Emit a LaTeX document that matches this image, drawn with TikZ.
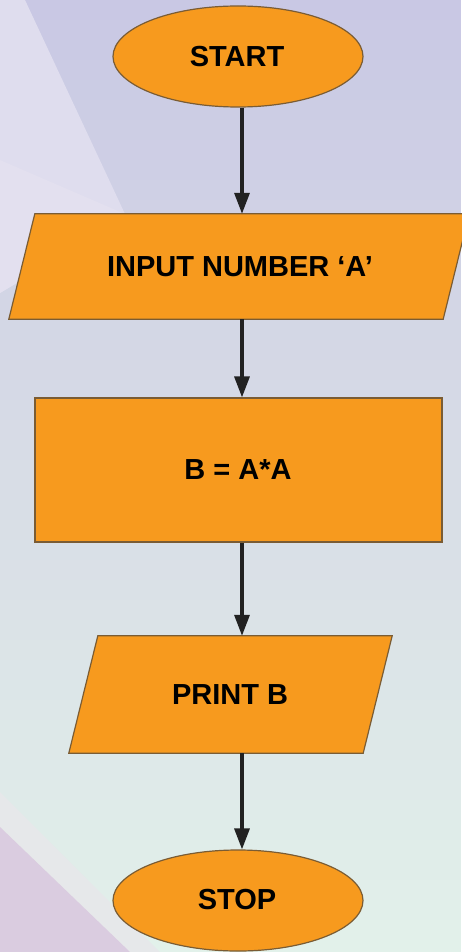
\documentclass[tikz,border=0pt]{standalone}
\usepackage{fontspec}
\setmainfont{Liberation Sans}
\usetikzlibrary{shapes.geometric,arrows.meta}
\definecolor{bgtop}{HTML}{C9C8E4}
\definecolor{bgmid}{HTML}{D8DDE6}
\definecolor{bgbot}{HTML}{E2F1EA}
\definecolor{wedge}{HTML}{DFDDEE}
\definecolor{wedgeb}{HTML}{E3E0EF}
\definecolor{purp}{HTML}{DACCE0}
\definecolor{stripe}{HTML}{E6E8EA}
\definecolor{boxfill}{HTML}{F79A1E}
\definecolor{boxline}{HTML}{7A5C34}
\definecolor{arrowc}{HTML}{222222}
\pgfdeclarelayer{bg}
\pgfdeclarelayer{shapes}
\pgfsetlayers{bg,shapes,main}
\begin{document}
\begin{tikzpicture}[x=1pt,y=-1pt,
  lbl/.style={font=\fontsize{29}{32}\selectfont\bfseries, text=black, inner sep=0pt},
  term/.style={ellipse, draw=boxline, fill=boxfill, line width=1.2pt, minimum width=250, minimum height=101, inner sep=0pt},
  procbox/.style={rectangle, draw=boxline, fill=boxfill, line width=1.2pt, minimum width=407, minimum height=144, inner sep=0pt},
  iobox/.style={rectangle, minimum height=#1, inner sep=0pt},
  ioshape/.style={draw=boxline, fill=boxfill, line width=1.2pt, line join=miter},
  flow/.style={draw=arrowc, line width=3.3pt, -{Triangle[length=21pt,width=15pt]}, shorten >=0pt}
]
\useasboundingbox (0,0) rectangle (461,952);
\begin{pgfonlayer}{bg}
  \foreach \i in {0,...,23} {
    \pgfmathsetmacro{\p}{100-\i*100/23}
    \fill[bgtop!\p!bgmid] (0,\i*20) rectangle (461,\i*20+21);
  }
  \foreach \i in {24,...,47} {
    \pgfmathsetmacro{\p}{100-(\i-24)*100/23}
    \fill[bgmid!\p!bgbot] (0,\i*20) rectangle (461,\i*20+21);
  }
  \fill[wedge] (0,0) -- (25,0) -- (125,214) -- (80,245) -- (0,293) -- cycle;
  \fill[wedgeb] (0,160) -- (125,214) -- (80,245) -- (0,293) -- cycle;
  \fill[stripe] (0,792) -- (160,952) -- (0,952) -- cycle;
  \fill[purp] (0,827) -- (130,952) -- (0,952) -- cycle;
\end{pgfonlayer}

\node[term] (start) at (238,56.5) {};
\node[lbl] (starttxt) at (237,57) {START};

\node[iobox=105, minimum width=434] (in) at (239,266.5) {};
\node[lbl] (intxt) at (240,267) {INPUT NUMBER ‘A’};

\node[procbox] (proc) at (238.5,470) {};
\node[lbl] (proctxt) at (238,470) {B = A*A};

\node[iobox=117, minimum width=294] (out) at (230.5,694.5) {};
\node[lbl] (outtxt) at (230,695) {PRINT B};

\node[term] (stop) at (238,900.5) {};
\node[lbl] (stoptxt) at (237,900) {STOP};

\begin{pgfonlayer}{shapes}
  \path[ioshape] ([xshift=13]in.north west) -- ([xshift=13]in.north east) -- ([xshift=-13]in.south east) -- ([xshift=-13]in.south west) -- cycle;
  \path[ioshape] ([xshift=14.5]out.north west) -- ([xshift=14.5]out.north east) -- ([xshift=-14.5]out.south east) -- ([xshift=-14.5]out.south west) -- cycle;
\end{pgfonlayer}

\draw[flow] ([xshift=4]start.south) -- ([xshift=3]in.north);
\draw[flow] ([xshift=3]in.south) -- ([xshift=3.5]proc.north);
\draw[flow] ([xshift=3.5]proc.south) -- ([xshift=11.5]out.north);
\draw[flow] ([xshift=11.5]out.south) -- ([xshift=4]stop.north);
\end{tikzpicture}
\end{document}
